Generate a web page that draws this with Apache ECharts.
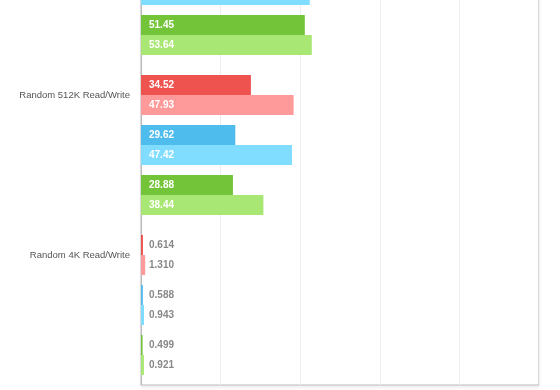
<!DOCTYPE html>
<html>
<head>
<meta charset="utf-8">
<script src="https://cdn.jsdelivr.net/npm/echarts@6/dist/echarts.min.js"></script>
<style>
html,body{margin:0;padding:0;background:#fff;overflow:hidden;width:560px;height:390px;}
#c{position:absolute;left:0;top:-95px;width:560px;height:485px;}
</style>
</head>
<body>
<div id="c"></div>
<script>
// Test categories (the first one is mostly cropped off above the view)
var categories = ['Sequential Read/Write', 'Random 512K Read/Write', 'Random 4K Read/Write'];
// Values (MB/s) per drive, read / write
var driveARead  = [56.2, 34.52, 0.614];
var driveAWrite = [58.9, 47.93, 1.310];
var driveBRead  = [50.8, 29.62, 0.588];
var driveBWrite = [53.0, 47.42, 0.943];
var driveCRead  = [51.45, 28.88, 0.499];
var driveCWrite = [53.64, 38.44, 0.921];
// Value axis ticks
var axisMin = 0, axisMax = 125, axisStep = 25;

var colors = {
  aRead: '#EF5350', aWrite: '#FF9A9A',
  bRead: '#4EBCEC', bWrite: '#80DDFF',
  cRead: '#74C43A', cWrite: '#A9E774'
};

function fmt(v) { return v < 10 ? v.toFixed(3) : v.toFixed(2); }
function items(arr) {
  return arr.map(function (v) {
    return { value: v, label: { color: v < 10 ? '#888888' : '#ffffff' } };
  });
}
function barSeries(name, arr, color) {
  return {
    name: name, type: 'bar', data: items(arr), barWidth: 20, barGap: '0%',
    itemStyle: { color: color },
    label: {
      show: true, position: 'insideLeft', distance: 8,
      formatter: function (p) { return fmt(p.value); },
      fontFamily: 'Liberation Sans, Arial, sans-serif', fontSize: 10, fontWeight: 'bold'
    },
    silent: true, animation: false
  };
}
function spacer() {
  return { type: 'bar', data: [], barWidth: 10, barGap: '0%', silent: true, animation: false };
}

var chart = echarts.init(document.getElementById('c'), null, { renderer: 'canvas' });
chart.setOption({
  animation: false,
  grid: {
    left: 141, right: 21, top: 0, height: 480,
    show: true, borderColor: '#BBBBBB', borderWidth: 1, backgroundColor: '#ffffff',
    shadowColor: 'rgba(0,0,0,0.06)', shadowBlur: 3, shadowOffsetY: 3
  },
  xAxis: {
    type: 'value', min: axisMin, max: axisMax, interval: axisStep,
    axisLabel: { show: false }, axisTick: { show: false }, axisLine: { show: false },
    splitLine: { lineStyle: { color: '#EEEEEE', width: 1 } }
  },
  yAxis: {
    type: 'category', data: categories, inverse: true,
    axisLine: { lineStyle: { color: '#BBBBBB' } }, axisTick: { show: false },
    axisLabel: {
      interval: 0, margin: 11,
      formatter: function (v) { return '{v|' + v + '}\n{s| }'; },
      rich: {
        v: { color: '#555555', fontSize: 9.5, lineHeight: 12, fontFamily: 'Liberation Sans, Arial, sans-serif' },
        s: { fontSize: 9.5, lineHeight: 100 }
      }
    }
  },
  series: [
    barSeries('Drive A Read', driveARead, colors.aRead),
    barSeries('Drive A Write', driveAWrite, colors.aWrite),
    spacer(),
    barSeries('Drive B Read', driveBRead, colors.bRead),
    barSeries('Drive B Write', driveBWrite, colors.bWrite),
    spacer(),
    barSeries('Drive C Read', driveCRead, colors.cRead),
    barSeries('Drive C Write', driveCWrite, colors.cWrite)
  ]
});
</script>
</body>
</html>
